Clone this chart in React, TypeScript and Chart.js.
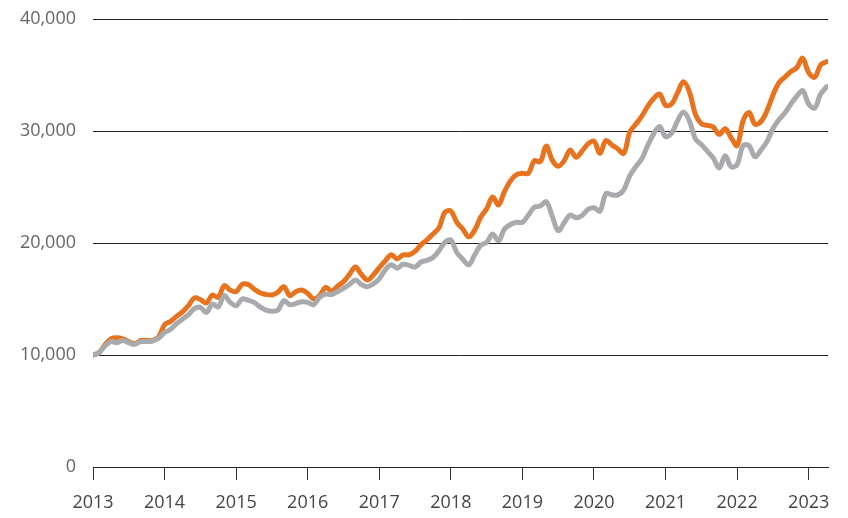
import React, { useEffect, useRef } from "react";
import { Chart, registerables } from "chart.js";

Chart.register(...registerables);

const startYear = 2013;
const yTicks = [0, 10000, 20000, 30000, 40000];
const yearLabels = ["2013","2014","2015","2016","2017","2018","2019","2020","2021","2022","2023"];

// monthly values, Jan 2013 – Apr 2023
const orangeSeries = [
  10000, 10200, 10900, 11450, 11550, 11450, 11200, 11000, 11300, 11300, 11300, 11600,
  12700, 13000, 13450, 13850, 14400, 15100, 14950, 14650, 15350, 15150, 16200, 15800,
  15650, 16300, 16300, 15900, 15550, 15400, 15360, 15600, 16100, 15300, 15650, 15800,
  15500, 15000, 15300, 16050, 15700, 16150, 16550, 17200, 17850, 17200, 16700, 17150,
  17800, 18400, 18950, 18600, 18930, 18950, 19250, 19850, 20280, 20800, 21350, 22750,
  22850, 21850, 21250, 20550, 21150, 22300, 23050, 24100, 23400, 24600, 25550, 26100,
  26220, 26220, 27350, 27260, 28650, 27400, 26850, 27350, 28300, 27650, 28200, 28850,
  29100, 28000, 29150, 28750, 28400, 28000, 29900, 30600, 31300, 32200, 32900, 33300,
  32300, 32400, 33400, 34400, 33500, 31500, 30650, 30500, 30350, 29700, 30200, 29400,
  28700, 30900, 31650, 30600, 30850, 31800, 33200, 34300, 34800, 35300, 35650, 36500,
  35200, 34800, 35900, 36200,
];

const graySeries = [
  10000, 10200, 10800, 11200, 11100, 11300, 11100, 10950, 11200, 11200, 11250, 11500,
  12000, 12300, 12800, 13200, 13600, 14150, 14250, 13800, 14550, 14300, 15300, 14700,
  14400, 15000, 14900, 14700, 14300, 14000, 13900, 14000, 14850, 14500, 14600, 14750,
  14700, 14500, 15150, 15450, 15400, 15650, 15950, 16300, 16700, 16300, 16100, 16350,
  16800, 17600, 18050, 17750, 18100, 18000, 17850, 18300, 18450, 18700, 19300, 20050,
  20250, 19150, 18550, 18050, 18950, 19800, 20050, 20800, 20200, 21250, 21650, 21850,
  21850, 22500, 23200, 23300, 23700, 22400, 21100, 21800, 22500, 22250, 22450, 23000,
  23150, 22850, 24400, 24300, 24300, 24750, 26000, 26800, 27500, 28700, 29750, 30400,
  29500, 29800, 30900, 31700, 30900, 29300, 28800, 28200, 27600, 26700, 27800, 26800,
  27000, 28700, 28700, 27700, 28300, 29050, 30200, 31000, 31600, 32400, 33100, 33600,
  32400, 32050, 33300, 33950,
];

const ORANGE = "#E8731F";
const GRAY = "#A9AAAD";
const FONT = "'Open Sans', sans-serif";

function toPoints(values: number[]) {
  return values.map((v, i) => ({ x: startYear + i / 12, y: v }));
}

export default function App() {
  const ref = useRef<HTMLCanvasElement | null>(null);
  useEffect(() => {
    if (!ref.current) return;
    const lastX = startYear + (orangeSeries.length - 1) / 12;
    const chart = new Chart(ref.current, {
      type: "line",
      data: {
        datasets: [
          {
            label: "Gray",
            data: toPoints(graySeries),
            borderColor: GRAY,
            borderWidth: 5,
            pointRadius: 0,
            tension: 0.35,
            borderCapStyle: "round",
            borderJoinStyle: "round",
          },
          {
            label: "Orange",
            data: toPoints(orangeSeries),
            borderColor: ORANGE,
            borderWidth: 5,
            pointRadius: 0,
            tension: 0.35,
            borderCapStyle: "round",
            borderJoinStyle: "round",
          },
        ],
      },
      options: {
        animation: false,
        responsive: false,
        maintainAspectRatio: false,
        layout: { padding: { top: 19, right: 20, left: 0, bottom: 0 } },
        plugins: { legend: { display: false }, tooltip: { enabled: false } },
        scales: {
          x: {
            type: "linear",
            min: startYear,
            max: lastX + 0.02,
            afterFit: (s: any) => { s.height = 51; s.paddingLeft = 0; s.paddingRight = 0; },
            afterBuildTicks: (s: any) => {
              s.ticks = yearLabels.map((l) => ({ value: Number(l) }));
            },
            ticks: {
              includeBounds: false,
              stepSize: 1,
              autoSkip: false,
              maxRotation: 0,
              padding: 12,
              color: "#444",
              font: { family: FONT, size: 18 },
              callback: (v: any) => String(v),
            },
            grid: {
              drawOnChartArea: false,
              drawTicks: true,
              tickLength: 13,
              color: "#333",
              lineWidth: 1,
            },
            border: { display: true, color: "#222", width: 1 },
          },
          y: {
            min: 0,
            max: 40000,
            afterFit: (s: any) => { s.width = 93; s.paddingTop = 0; s.paddingBottom = 0; },
            afterBuildTicks: (s: any) => {
              s.ticks = yTicks.map((v) => ({ value: v }));
            },
            ticks: {
              stepSize: 10000,
              padding: 17,
              color: "#666",
              font: { family: FONT, size: 18 },
              callback: (v: any) => Number(v).toLocaleString("en-US"),
            },
            grid: { drawTicks: false, color: "#222", lineWidth: 1 },
            border: { display: false },
          },
        },
      },
    });
    return () => chart.destroy();
  }, []);
  return (
    <div style={{ position: "fixed", left: 0, top: 0, width: 848, height: 518, background: "#fff" }}>
      <canvas ref={ref} width={848} height={518} style={{ width: 848, height: 518 }} />
    </div>
  );
}
